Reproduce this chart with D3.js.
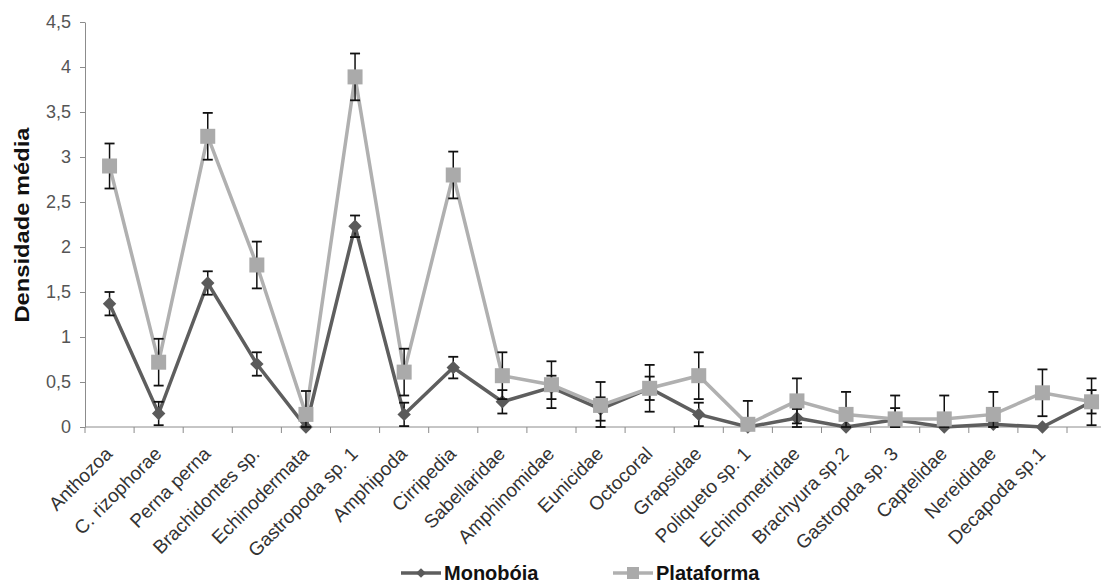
<!DOCTYPE html>
<head>
<meta charset="utf-8">
<script src="https://d3js.org/d3.v7.min.js"></script>
<style>
    body { margin: 0; background: #fff; }
    svg { display: block; font-family: "Liberation Sans", Arial, sans-serif; }
</style>
</head>
<body>
<svg></svg>
<script>
    var width = 1101;
    var height = 583;

    // ---- data ----
    var categories = ["Anthozoa", "C. rizophorae", "Perna perna", "Brachidontes sp.", "Echinodermata",
        "Gastropoda sp. 1", "Amphipoda", "Cirripedia", "Sabellaridae", "Amphinomidae", "Eunicidae",
        "Octocoral", "Grapsidae", "Poliqueto sp. 1", "Echinometridae", "Brachyura sp.2",
        "Gastropda sp. 3", "Captelidae", "Nereididae", "Decapoda sp.1", ""];

    var monoboia    = [1.37, 0.15, 1.60, 0.70, 0.00, 2.23, 0.14, 0.66, 0.28, 0.44, 0.20, 0.43, 0.14, 0.00, 0.10, 0.00, 0.08, 0.00, 0.03, 0.00, 0.28];
    var monoboiaErr = [0.13, 0.13, 0.13, 0.13, 0.00, 0.12, 0.13, 0.12, 0.13, 0.13, 0.13, 0.13, 0.13, 0.00, 0.10, 0.00, 0.13, 0.00, 0.03, 0.00, 0.13];

    var plataforma    = [2.90, 0.72, 3.23, 1.80, 0.14, 3.89, 0.61, 2.80, 0.57, 0.47, 0.24, 0.43, 0.57, 0.03, 0.29, 0.14, 0.09, 0.09, 0.14, 0.38, 0.28];
    var plataformaErr = [0.25, 0.26, 0.26, 0.26, 0.26, 0.26, 0.26, 0.26, 0.26, 0.26, 0.26, 0.26, 0.26, 0.26, 0.25, 0.25, 0.26, 0.26, 0.25, 0.26, 0.26];

    var yTicks = [0, 0.5, 1, 1.5, 2, 2.5, 3, 3.5, 4, 4.5];

    var svg = d3.select("svg")
        .attr("width", width)
        .attr("height", height);

    var x = d3.scaleBand()
        .domain(d3.range(categories.length))
        .range([85, 85 + 49.1 * categories.length]);

    var y = d3.scaleLinear()
        .domain([0, 4.5])
        .range([427, 22]);

    function cx(i) { return x(i) + x.bandwidth() / 2; }

    // y axis
    var yAxis = svg.append("g")
        .attr("transform", "translate(85,0)")
        .call(d3.axisLeft(y).tickValues(yTicks).tickSize(5).tickSizeOuter(0).tickPadding(9)
            .tickFormat(function(d) { return String(d).replace(".", ","); }));
    yAxis.select(".domain").attr("stroke", "#8c8c8c");
    yAxis.selectAll(".tick line").attr("stroke", "#8c8c8c");
    yAxis.selectAll("text").attr("fill", "#555").style("font-size", "18px");

    svg.append("text")
        .attr("transform", "translate(29,225) rotate(-90)")
        .attr("text-anchor", "middle")
        .attr("textLength", 195)
        .attr("lengthAdjust", "spacingAndGlyphs")
        .style("font-size", "20px")
        .style("font-weight", "bold")
        .attr("fill", "#111")
        .text("Densidade média");

    // x axis (ticks on category boundaries)
    svg.append("line")
        .attr("x1", 85).attr("x2", width)
        .attr("y1", y(0)).attr("y2", y(0))
        .attr("stroke", "#8c8c8c");

    svg.selectAll(".xtick")
        .data(d3.range(categories.length + 1))
        .enter().append("line")
        .attr("x1", function(i) { return 85 + i * x.step(); })
        .attr("x2", function(i) { return 85 + i * x.step(); })
        .attr("y1", y(0)).attr("y2", y(0) + 6)
        .attr("stroke", "#8c8c8c");

    svg.selectAll(".xlabel")
        .data(categories)
        .enter().append("text")
        .attr("transform", function(d, i) { return "translate(" + (cx(i) + 4) + "," + (y(0) + 28) + ") rotate(-45)"; })
        .attr("text-anchor", "end")
        .style("font-size", "19px")
        .attr("fill", "#333")
        .text(function(d) { return d; });

    var line = d3.line()
        .x(function(d, i) { return cx(i); })
        .y(function(d) { return y(d); });

    function drawErrors(vals, errs) {
        var g = svg.append("g");
        vals.forEach(function(v, i) {
            if (errs[i] <= 0) return;
            var lo = Math.max(0, v - errs[i]), hi = v + errs[i];
            g.append("line").attr("x1", cx(i)).attr("x2", cx(i))
                .attr("y1", y(lo)).attr("y2", y(hi))
                .attr("stroke", "#111").attr("stroke-width", 1.5);
            [lo, hi].forEach(function(e) {
                g.append("line").attr("x1", cx(i) - 5).attr("x2", cx(i) + 5)
                    .attr("y1", y(e)).attr("y2", y(e))
                    .attr("stroke", "#111").attr("stroke-width", 1.8);
            });
        });
    }

    // Monobóia
    svg.append("path").datum(monoboia)
        .attr("d", line)
        .attr("fill", "none")
        .attr("stroke", "#5e5e5e")
        .attr("stroke-width", 3.5);
    drawErrors(monoboia, monoboiaErr);
    svg.selectAll(".mpt")
        .data(monoboia)
        .enter().append("path")
        .attr("d", d3.symbol().type(d3.symbolDiamond2).size(115))
        .attr("transform", function(d, i) { return "translate(" + cx(i) + "," + y(d) + ")"; })
        .attr("fill", "#5a5a5a");

    // Plataforma
    svg.append("path").datum(plataforma)
        .attr("d", line)
        .attr("fill", "none")
        .attr("stroke", "#b0b0b0")
        .attr("stroke-width", 3.5);
    drawErrors(plataforma, plataformaErr);
    svg.selectAll(".ppt")
        .data(plataforma)
        .enter().append("rect")
        .attr("x", function(d, i) { return cx(i) - 7.5; })
        .attr("y", function(d) { return y(d) - 7.5; })
        .attr("width", 15).attr("height", 15)
        .attr("fill", "#aaaaaa");

    // legend
    var legend = [
        { name: "Monobóia", color: "#5e5e5e", x: 401 },
        { name: "Plataforma", color: "#b0b0b0", x: 613 }
    ];
    legend.forEach(function(l, k) {
        svg.append("line")
            .attr("x1", l.x).attr("x2", l.x + 40)
            .attr("y1", 573).attr("y2", 573)
            .attr("stroke", l.color).attr("stroke-width", 3.5);
        if (k === 0) {
            svg.append("path")
                .attr("d", d3.symbol().type(d3.symbolDiamond2).size(60))
                .attr("transform", "translate(" + (l.x + 20) + ",573)")
                .attr("fill", "#5a5a5a");
        } else {
            svg.append("rect")
                .attr("x", l.x + 14).attr("y", 567).attr("width", 12).attr("height", 12)
                .attr("fill", "#aaaaaa");
        }
        svg.append("text")
            .attr("x", l.x + 43).attr("y", 580)
            .style("font-size", "20px").style("font-weight", "bold")
            .attr("fill", "#111")
            .text(l.name);
    });
</script>
</body>
